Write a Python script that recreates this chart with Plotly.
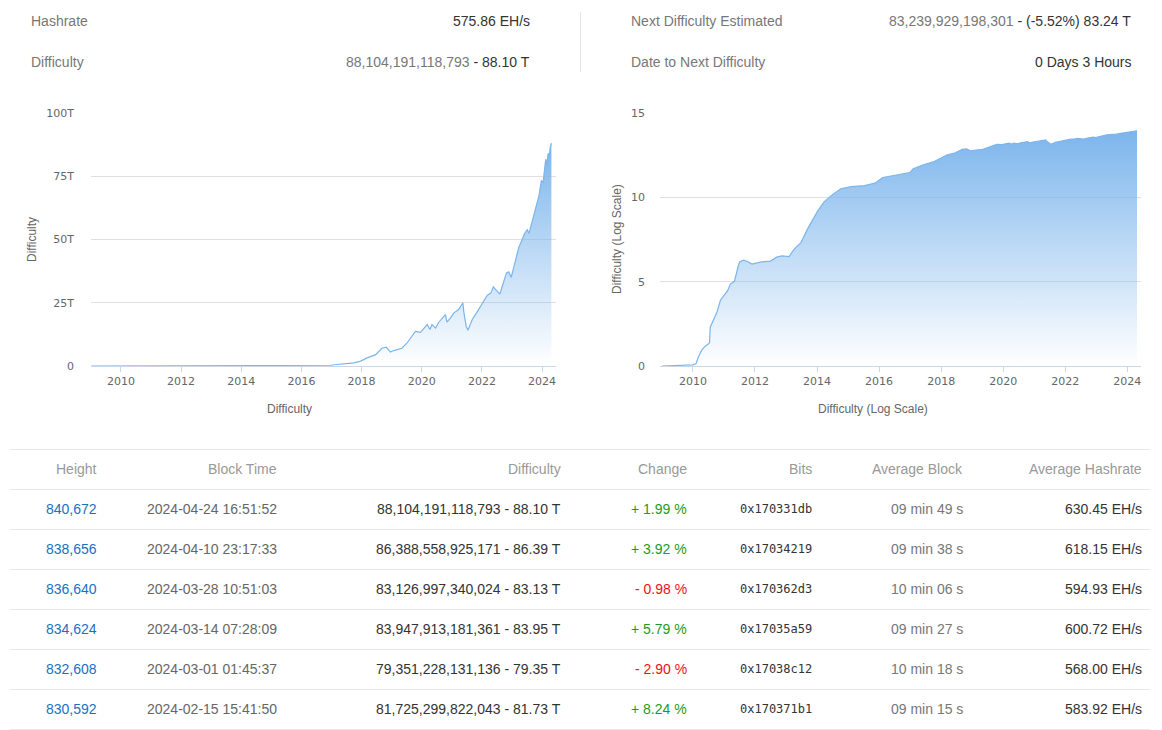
import numpy as np
import plotly.graph_objects as go

W, H = 1162, 730

# ---------------- data ----------------
chart_dates = [
    "2009-01-03", "2009-12-30", "2010-02-08", "2010-03-08", "2010-04-15", "2010-05-26",
    "2010-07-05", "2010-07-16", "2010-07-24", "2010-09-02", "2010-10-12", "2010-11-21",
    "2010-12-28", "2011-02-14", "2011-03-18", "2011-05-05", "2011-06-14", "2011-07-06",
    "2011-08-22", "2011-10-08", "2011-11-28", "2012-03-06", "2012-07-01", "2012-09-20",
    "2012-11-17", "2013-02-06", "2013-04-05", "2013-06-25", "2013-09-09", "2013-11-20",
    "2014-01-08", "2014-03-25", "2014-07-01", "2014-10-08", "2015-02-06", "2015-07-13",
    "2015-11-14", "2016-02-14", "2016-08-11", "2016-12-28", "2017-02-06", "2017-06-06",
    "2017-10-01", "2017-12-20", "2018-03-08", "2018-06-17", "2018-09-06", "2018-10-27",
    "2018-12-17", "2019-01-26", "2019-05-05", "2019-07-05", "2019-10-16", "2019-12-17",
    "2020-03-08", "2020-04-10", "2020-05-05", "2020-06-17", "2020-07-27", "2020-10-15",
    "2020-11-03", "2020-12-16", "2021-01-26", "2021-03-25", "2021-05-15", "2021-05-26",
    "2021-06-24", "2021-07-16", "2021-09-06", "2021-11-03", "2022-01-15", "2022-03-08",
    "2022-04-17", "2022-05-20", "2022-07-05", "2022-08-08", "2022-09-06", "2022-10-27",
    "2022-11-24", "2022-12-23", "2023-01-26", "2023-03-26", "2023-04-23", "2023-06-03",
    "2023-07-06", "2023-07-27", "2023-08-22", "2023-10-16", "2023-11-25", "2023-12-24",
    "2024-01-15", "2024-02-15", "2024-03-01", "2024-03-14", "2024-03-28", "2024-04-10",
    "2024-04-24",
]
chart_difficulty = [
    1, 1.18, 1.4, 3.5, 8.7, 15,
    21, 24, 200, 630, 1580, 7900,
    15000, 29500, 72000, 105000, 690000, 1.51e6,
    1.86e6, 1.58e6, 1.10e6, 1.45e6, 1.66e6, 2.95e6,
    3.39e6, 3.09e6, 8.3e6, 2.04e7, 1.26e8, 6.0e8,
    1.51e9, 5.37e9, 1.45e10, 3.24e10, 4.27e10, 4.9e10,
    6.9e10, 1.51e11, 2.14e11, 2.95e11, 5.0e11, 8.5e11,
    1.26e12, 1.93e12, 3.2e12, 4.4e12, 7.0e12, 7.4e12,
    5.5e12, 6.1e12, 7.0e12, 9.0e12, 13.7e12, 13.3e12,
    16.4e12, 14.4e12, 16.4e12, 15.0e12, 17.3e12, 20.3e12,
    17.3e12, 19.0e12, 21.0e12, 22.3e12, 25.0e12, 21.5e12,
    15.7e12, 14.1e12, 18.4e12, 21.3e12, 25.0e12, 28.0e12,
    28.7e12, 31.3e12, 29.6e12, 28.4e12, 31.6e12, 36.8e12,
    37.2e12, 35.0e12, 39.4e12, 47.0e12, 49.0e12, 52.4e12,
    53.9e12, 52.4e12, 55.6e12, 62.5e12, 67.3e12, 73.2e12,
    72.7e12, 81725299822043, 79351228131136, 83947913181361, 83126997340024, 86388558925171,
    88104191118793,
]

lin_tickvals = [0, 25e12, 50e12, 75e12, 100e12]
lin_ticktext = ["0", "25T", "50T", "75T", "100T"]
log_tickvals = [0, 5, 10, 15]
log_ticktext = ["0", "5", "10", "15"]

summary_left_labels = ["Hashrate", "Difficulty"]
summary_left_values = [("", "575.86 EH/s"), ("88,104,191,118,793", " - 88.10 T")]
summary_right_labels = ["Next Difficulty Estimated", "Date to Next Difficulty"]
summary_right_values = [("83,239,929,198,301", " - (-5.52%) 83.24 T"), ("", "0 Days 3 Hours")]

table_headers = ["Height", "Block Time", "Difficulty", "Change", "Bits", "Average Block", "Average Hashrate"]
heights = ["840,672", "838,656", "836,640", "834,624", "832,608", "830,592"]
block_times = ["2024-04-24 16:51:52", "2024-04-10 23:17:33", "2024-03-28 10:51:03",
               "2024-03-14 07:28:09", "2024-03-01 01:45:37", "2024-02-15 15:41:50"]
table_difficulty = [88104191118793, 86388558925171, 83126997340024,
                    83947913181361, 79351228131136, 81725299822043]
changes = [1.99, 3.92, -0.98, 5.79, -2.90, 8.24]
bits = ["0x170331db", "0x17034219", "0x170362d3", "0x17035a59", "0x17038c12", "0x170371b1"]
avg_block = ["09 min 49 s", "09 min 38 s", "10 min 06 s", "09 min 27 s", "10 min 18 s", "09 min 15 s"]
avg_hashrate = ["630.45 EH/s", "618.15 EH/s", "594.93 EH/s", "600.72 EH/s", "568.00 EH/s", "583.92 EH/s"]

# ---------------- helpers ----------------
def px(x):
    return x / W

def py(y):
    return 1 - y / H

LINE = "#7cb5ec"
TICK_FONT = dict(family="DejaVu Sans", size=11, color="#666666")
SANS = "Liberation Sans, Arial, Helvetica, sans-serif"

fig = go.Figure()

grad = dict(type="vertical",
            colorscale=[[0, "rgba(124,181,236,0.0)"], [1, "rgba(124,181,236,1.0)"]])

fig.add_trace(go.Scatter(
    x=chart_dates, y=chart_difficulty, mode="lines", fill="tozeroy",
    line=dict(color=LINE, width=1.2), fillgradient=grad,
    xaxis="x", yaxis="y", hoverinfo="skip"))

fig.add_trace(go.Scatter(
    x=chart_dates, y=np.log10(np.array(chart_difficulty, dtype=float)), mode="lines",
    fill="tozeroy", line=dict(color=LINE, width=1.2), fillgradient=grad,
    xaxis="x2", yaxis="y2", hoverinfo="skip"))

xcommon = dict(type="date", dtick="M24", tick0="2010-01-01", tickformat="%Y",
               showgrid=False, showline=True, linecolor="#ccd6eb", linewidth=1,
               ticks="outside", ticklen=5, tickcolor="#ccd6eb", tickfont=TICK_FONT,
               zeroline=False, fixedrange=True, automargin=False)
ycommon = dict(showgrid=True, gridcolor="#e0e0e0", gridwidth=1, zeroline=False,
               showline=False, ticks="", tickfont=TICK_FONT, fixedrange=True,
               automargin=False)

fig.update_layout(
    template="none",
    width=W, height=H, margin=dict(l=0, r=0, t=0, b=0, pad=0, autoexpand=False),
    paper_bgcolor="white", plot_bgcolor="white", showlegend=False,
    xaxis=dict(domain=[px(91), px(556)], range=["2009-01-02", "2024-06-19"],
               anchor="y", **xcommon),
    yaxis=dict(domain=[py(366), py(113)], range=[0, 100e12], tickvals=lin_tickvals,
               ticktext=lin_ticktext, anchor="x", ticklabelstandoff=16, **ycommon),
    xaxis2=dict(domain=[px(660), px(1141)], range=["2008-12-10", "2024-06-10"],
                anchor="y2", **xcommon),
    yaxis2=dict(domain=[py(366), py(113)], range=[0, 15], tickvals=log_tickvals,
                ticktext=log_ticktext, anchor="x2", ticklabelstandoff=14, **ycommon),
)

ann = []
shapes = []

def text(x, y, s, anchor="left", size=14, color="#333333", family=SANS, angle=0):
    if anchor == "right":
        x += 2
    elif anchor == "left":
        x -= 2
    ann.append(dict(x=px(x), y=py(y), xref="paper", yref="paper", text=s,
                    showarrow=False, xanchor=anchor, yanchor="middle", textangle=angle,
                    font=dict(family=family, size=size, color=color)))

# axis titles
text(32, 240, "Difficulty", anchor="center", size=12, color="#666666", angle=-90)
text(289, 409, "Difficulty", anchor="center", size=12, color="#666666")
text(617, 239, "Difficulty (Log Scale)", anchor="center", size=12, color="#666666", angle=-90)
text(873, 409, "Difficulty (Log Scale)", anchor="center", size=12, color="#666666")

# summary header
rows_y = [21, 62]
for i, lab in enumerate(summary_left_labels):
    text(31, rows_y[i], lab, color="#777777")
    g, d = summary_left_values[i]
    s = (f"<span style='color:#777777'>{g}</span>" if g else "") + d
    text(530, rows_y[i], s, anchor="right", color="#333333")
for i, lab in enumerate(summary_right_labels):
    text(631, rows_y[i], lab, color="#777777")
    g, d = summary_right_values[i]
    s = (f"<span style='color:#777777'>{g}</span>" if g else "") + d
    text(1131, rows_y[i], s, anchor="right", color="#333333")
shapes.append(dict(type="line", xref="paper", yref="paper", x0=px(580.5), x1=px(580.5),
                   y0=py(12), y1=py(72), line=dict(color="#e6e6e6", width=1)))

# table
col_right = [97, 277, 561, 687, 812, 963, 1142]
for j, h in enumerate(table_headers):
    text(col_right[j], 469, h, anchor="right", color="#999999")
for y in [449, 489, 529, 569, 609, 649, 689, 729]:
    shapes.append(dict(type="line", xref="paper", yref="paper", x0=px(10), x1=px(1150),
                       y0=py(y + 0.5), y1=py(y + 0.5), line=dict(color="#e8e8e8", width=1)))
for i in range(len(heights)):
    y = 509 + 40 * i
    text(col_right[0], y, heights[i], anchor="right", color="#1b6fc2")
    text(col_right[1], y, block_times[i], anchor="right", color="#666666")
    d = table_difficulty[i]
    text(col_right[2], y, f"{d:,} - {d / 1e12:.2f} T", anchor="right", color="#333333")
    c = changes[i]
    sign = "+" if c >= 0 else "-"
    text(col_right[3], y, f"{sign} {abs(c):.2f} %", anchor="right",
         color="#1e9a1e" if c >= 0 else "#f01010")
    text(col_right[4], y, bits[i], anchor="right", color="#333333",
         family="DejaVu Sans Mono, monospace", size=12)
    text(col_right[5], y, avg_block[i], anchor="right", color="#777777")
    text(col_right[6], y, avg_hashrate[i], anchor="right", color="#333333")

fig.update_layout(annotations=ann, shapes=shapes)

fig.write_html("out.html", post_script="document.body.style.margin='0';",
               config={"displayModeBar": False})
